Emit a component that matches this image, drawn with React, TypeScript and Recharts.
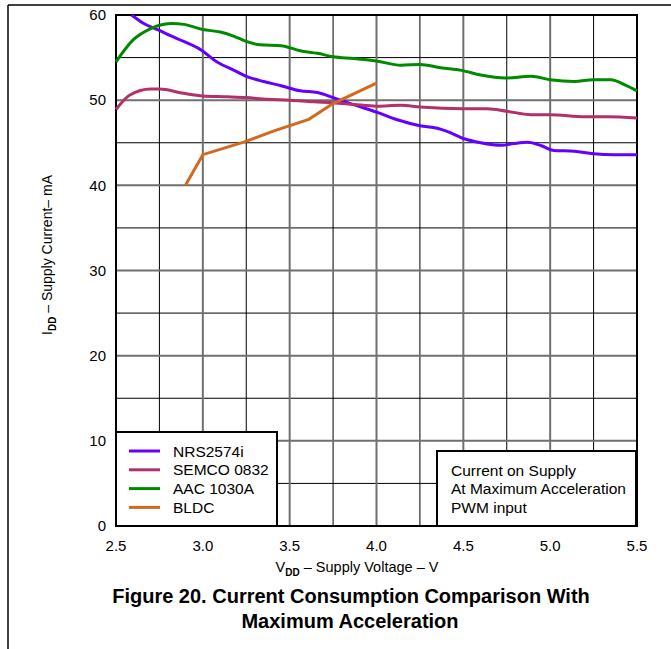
import { LineChart, Line, XAxis, YAxis, CartesianGrid, ReferenceArea } from "recharts";

const FONT = "'Liberation Sans', Arial, Helvetica, sans-serif";

// supply voltage (V) / supply current (mA) per motor
const nrsVolts = [2.59, 2.66, 2.75, 2.81, 2.89, 2.99, 3.08, 3.18, 3.25, 3.35, 3.45, 3.56, 3.66, 3.75, 3.85, 4.0, 4.12, 4.25, 4.35, 4.41, 4.5, 4.6, 4.72, 4.79, 4.87, 4.95, 5.02, 5.14, 5.25, 5.37, 5.5];
const nrsCurrent = [60, 59.0, 58.2, 57.6, 56.9, 55.9, 54.5, 53.5, 52.8, 52.2, 51.7, 51.1, 50.9, 50.3, 49.6, 48.6, 47.7, 47.0, 46.7, 46.3, 45.5, 45.0, 44.7, 44.9, 45.05, 44.65, 44.1, 44.0, 43.7, 43.6, 43.6];

const semcoVolts = [2.5, 2.58, 2.7, 2.75, 2.89, 3.0, 3.14, 3.25, 3.37, 3.5, 3.64, 3.75, 3.87, 4.0, 4.14, 4.25, 4.5, 4.64, 4.75, 4.89, 5.0, 5.2, 5.33, 5.5];
const semcoCurrent = [48.9, 50.6, 51.3, 51.3, 50.8, 50.5, 50.4, 50.3, 50.1, 50.0, 49.8, 49.7, 49.5, 49.3, 49.4, 49.2, 49.0, 49.0, 48.7, 48.3, 48.3, 48.05, 48.05, 47.9];

const aacVolts = [2.5, 2.6, 2.7, 2.75, 2.82, 2.89, 3.0, 3.1, 3.18, 3.25, 3.33, 3.45, 3.56, 3.66, 3.75, 3.87, 4.0, 4.14, 4.25, 4.37, 4.49, 4.6, 4.74, 4.89, 5.0, 5.14, 5.25, 5.35, 5.43, 5.5];
const aacCurrent = [54.5, 57.1, 58.4, 58.8, 59.0, 58.9, 58.3, 58.0, 57.5, 56.9, 56.5, 56.4, 55.8, 55.5, 55.1, 54.9, 54.6, 54.1, 54.2, 53.8, 53.5, 52.95, 52.6, 52.8, 52.4, 52.2, 52.4, 52.4, 51.8, 51.1];

const bldcVolts = [2.9, 3.0, 3.24, 3.41, 3.61, 3.75, 4.0];
const bldcCurrent = [40, 43.6, 45.1, 46.4, 47.75, 49.6, 52.0];

const xTicks = [2.5, 3.0, 3.5, 4.0, 4.5, 5.0, 5.5];
const xMinor = [2.75, 3.25, 3.75, 4.25, 4.75, 5.25];
const yTicks = [0, 10, 20, 30, 40, 50, 60];
const yMinor = [5, 15, 25, 35, 45, 55];

const noteLines = ["Current on Supply", "At Maximum Acceleration", "PWM input"];

type Curve = "monotone" | "linear";

const series: { name: string; color: string; volts: number[]; current: number[]; curve: Curve }[] = [
  { name: "NRS2574i", color: "#6400ff", volts: nrsVolts, current: nrsCurrent, curve: "monotone" },
  { name: "SEMCO 0832", color: "#b3306a", volts: semcoVolts, current: semcoCurrent, curve: "monotone" },
  { name: "AAC 1030A", color: "#008a00", volts: aacVolts, current: aacCurrent, curve: "monotone" },
  { name: "BLDC", color: "#d2691e", volts: bldcVolts, current: bldcCurrent, curve: "linear" },
];

const toPoints = (v: number[], c: number[]) => v.map((x, i) => ({ v: x, i: c[i] }));

export default function App() {
  return (
    <div style={{ position: "absolute", left: 0, top: 0, width: 671, height: 649, background: "#fff", fontFamily: FONT }}>
      <LineChart width={671} height={649} margin={{ top: 15, right: 34, bottom: 93, left: 56 }}>
        <CartesianGrid stroke="#000" strokeWidth={1} horizontalValues={yMinor} verticalValues={xMinor} />
        <CartesianGrid stroke="#707070" strokeWidth={2} horizontalValues={yTicks} verticalValues={xTicks} />
        <XAxis
          type="number"
          dataKey="v"
          domain={[2.5, 5.5]}
          ticks={xTicks}
          tickFormatter={(t: number) => t.toFixed(1)}
          allowDuplicatedCategory={false}
          axisLine={false}
          tickLine={false}
          tickSize={0}
          tickMargin={14}
          height={30}
          tick={{ fontSize: 15, fill: "#000", fontFamily: FONT }}
        />
        <YAxis
          type="number"
          domain={[0, 60]}
          ticks={yTicks}
          axisLine={false}
          tickLine={false}
          tickSize={0}
          tickMargin={10}
          width={60}
          tick={{ fontSize: 15, fill: "#000", fontFamily: FONT }}
        />
        {series.map((s) => (
          <Line
            key={s.name}
            name={s.name}
            data={toPoints(s.volts, s.current)}
            dataKey="i"
            type={s.curve}
            stroke={s.color}
            strokeWidth={3}
            dot={false}
            isAnimationActive={false}
          />
        ))}
        <ReferenceArea x1={2.5} x2={5.5} y1={0} y2={60} fill="none" stroke="#000" strokeWidth={2} />
      </LineChart>

      <svg width={671} height={649} style={{ position: "absolute", left: 0, top: 0, pointerEvents: "none" }} fontFamily={FONT}>
        {/* page frame */}
        <line x1={8} y1={5} x2={671} y2={5} stroke="#000" strokeWidth={1.5} />
        <line x1={8} y1={5} x2={8} y2={649} stroke="#000" strokeWidth={1.5} />

        {/* legend */}
        <rect x={116} y={432} width={161} height={94} fill="#fff" stroke="#000" strokeWidth={2} />
        {series.map((s, k) => (
          <g key={s.name}>
            <line x1={129} x2={160} y1={451 + k * 18.8} y2={451 + k * 18.8} stroke={s.color} strokeWidth={3} />
            <text x={173} y={451 + k * 18.8} dominantBaseline="central" fontSize={15.5} fill="#000">
              {s.name}
            </text>
          </g>
        ))}

        {/* test condition note */}
        <rect x={437} y={451} width={199} height={75} fill="#fff" stroke="#000" strokeWidth={2} />
        {noteLines.map((t, k) => (
          <text key={t} x={451} y={470 + k * 18.6} dominantBaseline="central" fontSize={15.5} fill="#000">
            {t}
          </text>
        ))}

        {/* axis titles */}
        <text transform="translate(52,255) rotate(-90)" textAnchor="middle" fontSize={14} fill="#000">
          I<tspan fontSize={10} fontWeight="bold" dy={4}>DD</tspan>
          <tspan dy={-4}> – Supply Current– mA</tspan>
        </text>
        <text x={357} y={572} textAnchor="middle" fontSize={14.5} fill="#000">
          V<tspan fontSize={10} fontWeight="bold" dy={4}>DD</tspan>
          <tspan dy={-4}> – Supply Voltage – V</tspan>
        </text>

        {/* caption */}
        <text x={351} y={603} textAnchor="middle" fontSize={20} fontWeight="bold" fill="#000">
          Figure 20. Current Consumption Comparison With
        </text>
        <text x={350} y={628} textAnchor="middle" fontSize={20} fontWeight="bold" fill="#000">
          Maximum Acceleration
        </text>
      </svg>
    </div>
  );
}
